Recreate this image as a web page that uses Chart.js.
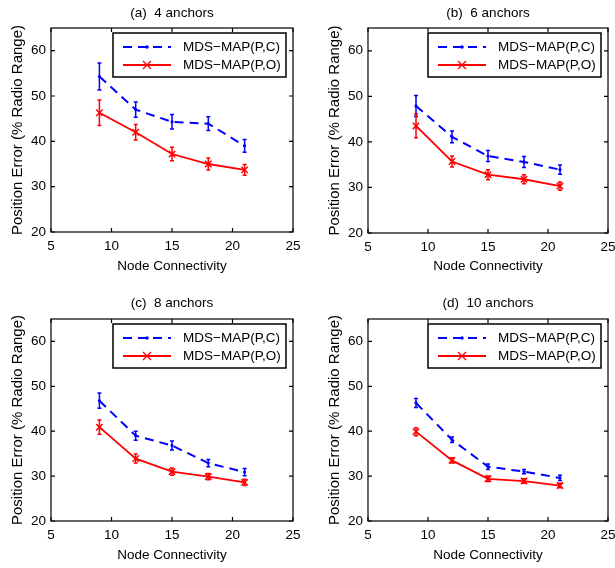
<!DOCTYPE html>
<html>
<head>
<meta charset="utf-8">
<script src="https://cdn.jsdelivr.net/npm/chart.js@4.4.1/dist/chart.umd.min.js"></script>
<style>
  html, body { margin: 0; padding: 0; background: #fff; overflow: hidden; }
  #wrap { position: relative; width: 615px; height: 568px; overflow: hidden; }
  canvas { position: absolute; }
</style>
</head>
<body>
<div id="wrap">
  <canvas id="chartA" width="310" height="284" style="left:0px;top:0px"></canvas>
  <canvas id="chartB" width="310" height="284" style="left:317px;top:0px"></canvas>
  <canvas id="chartC" width="310" height="284" style="left:0px;top:284px"></canvas>
  <canvas id="chartD" width="310" height="284" style="left:317px;top:284px"></canvas>
</div>
<script>
// node connectivity values on the x axis
const connectivity = [9, 12, 15, 18, 21];

const xTicks = [5, 10, 15, 20, 25];
const yTicks = [20, 30, 40, 50, 60];

const labelPC = 'MDS−MAP(P,C)';
const labelPO = 'MDS−MAP(P,O)';

// (a) 4 anchors
const pcA = [54.3, 47.0, 44.3, 43.9, 39.0];
const pcErrA = [3.0, 1.7, 1.6, 1.5, 1.4];
const poA = [46.3, 42.0, 37.2, 35.0, 33.7];
const poErrA = [2.8, 1.7, 1.5, 1.3, 1.2];

// (b) 6 anchors
const pcB = [47.9, 41.1, 36.9, 35.6, 33.9];
const pcErrB = [2.3, 1.3, 1.2, 1.2, 1.0];
const poB = [43.5, 35.7, 32.8, 31.8, 30.3];
const poErrB = [2.6, 1.2, 1.1, 1.0, 0.9];

// (c) 8 anchors
const pcC = [46.8, 39.0, 36.8, 32.9, 30.9];
const pcErrC = [1.7, 1.0, 1.0, 0.8, 0.8];
const poC = [40.9, 33.9, 31.0, 29.9, 28.6];
const poErrC = [1.6, 1.0, 0.8, 0.7, 0.7];

// (d) 10 anchors
const pcD = [46.3, 38.1, 32.1, 31.0, 29.6];
const pcErrD = [1.0, 0.6, 0.6, 0.5, 0.6];
const poD = [39.9, 33.5, 29.4, 28.9, 27.9];
const poErrD = [0.9, 0.6, 0.6, 0.5, 0.5];

Chart.defaults.font.family = '"Liberation Sans", Arial, Helvetica, sans-serif';
Chart.defaults.font.size = 13.5;
Chart.defaults.color = '#000';

// error bars with small caps
const errorBars = {
  id: 'errorBars',
  afterDatasetsDraw(chart) {
    const ctx = chart.ctx;
    const xs = chart.scales.x, ys = chart.scales.y;
    chart.data.datasets.forEach(ds => {
      ctx.save();
      ctx.strokeStyle = ds.borderColor;
      ctx.lineWidth = 1.5;
      ds.data.forEach((p, i) => {
        const e = ds.errors[i];
        const px = xs.getPixelForValue(p.x);
        const y1 = ys.getPixelForValue(p.y - e);
        const y2 = ys.getPixelForValue(p.y + e);
        ctx.beginPath();
        ctx.moveTo(px, y1); ctx.lineTo(px, y2);
        ctx.moveTo(px - 2, y1); ctx.lineTo(px + 2, y1);
        ctx.moveTo(px - 2, y2); ctx.lineTo(px + 2, y2);
        ctx.stroke();
      });
      ctx.restore();
    });
  }
};

// box around the plot with inward ticks on all sides
const frame = {
  id: 'frame',
  afterDraw(chart) {
    const ctx = chart.ctx;
    const a = chart.chartArea;
    const xs = chart.scales.x, ys = chart.scales.y;
    ctx.save();
    ctx.strokeStyle = '#000';
    ctx.lineWidth = 1.2;
    ctx.strokeRect(a.left, a.top, a.right - a.left, a.bottom - a.top);
    ctx.beginPath();
    xTicks.forEach(v => {
      const px = xs.getPixelForValue(v);
      ctx.moveTo(px, a.bottom); ctx.lineTo(px, a.bottom - 4);
      ctx.moveTo(px, a.top); ctx.lineTo(px, a.top + 4);
    });
    yTicks.forEach(v => {
      const py = ys.getPixelForValue(v);
      ctx.moveTo(a.left, py); ctx.lineTo(a.left + 4, py);
      ctx.moveTo(a.right, py); ctx.lineTo(a.right - 4, py);
    });
    ctx.stroke();
    ctx.restore();
  }
};

// legend box in the top right corner of the plot
const boxLegend = {
  id: 'boxLegend',
  afterDraw(chart) {
    const ctx = chart.ctx;
    const a = chart.chartArea;
    const w = 173, h = 44;
    const left = a.right - 7 - w, top = a.top + 5;
    ctx.save();
    ctx.fillStyle = '#fff';
    ctx.fillRect(left, top, w, h);
    ctx.strokeStyle = '#000';
    ctx.lineWidth = 1.5;
    ctx.strokeRect(left, top, w, h);
    ctx.font = '13.5px "Liberation Sans", Arial, sans-serif';
    ctx.textBaseline = 'middle';
    chart.data.datasets.forEach((ds, i) => {
      const y = top + 14 + i * 18;
      const x1 = left + 10, x2 = left + 58, xm = (x1 + x2) / 2;
      ctx.strokeStyle = ds.borderColor;
      ctx.lineWidth = ds.borderWidth;
      ctx.setLineDash(ds.borderDash || []);
      ctx.beginPath();
      ctx.moveTo(x1, y); ctx.lineTo(x2, y);
      ctx.stroke();
      ctx.setLineDash([]);
      if (ds.pointStyle === 'crossRot') {
        ctx.lineWidth = 1.3;
        ctx.beginPath();
        ctx.moveTo(xm - 4, y - 4); ctx.lineTo(xm + 4, y + 4);
        ctx.moveTo(xm - 4, y + 4); ctx.lineTo(xm + 4, y - 4);
        ctx.stroke();
      } else {
        ctx.fillStyle = ds.borderColor;
        ctx.beginPath();
        ctx.arc(xm, y, 1.8, 0, Math.PI * 2);
        ctx.fill();
      }
      ctx.fillStyle = '#000';
      ctx.fillText(ds.label, left + 70, y + 0.5);
    });
    ctx.restore();
  }
};

function makePanel(id, title, pc, pcErr, po, poErr, opt) {
  const toPts = arr => arr.map((v, i) => ({ x: connectivity[i], y: v }));
  return new Chart(document.getElementById(id), {
    type: 'line',
    data: {
      datasets: [{
        label: labelPC,
        data: toPts(pc),
        errors: pcErr,
        borderColor: '#0000ff',
        backgroundColor: '#0000ff',
        borderWidth: 2,
        borderDash: [9, 6],
        pointStyle: 'circle',
        pointRadius: 1.6,
        pointBorderWidth: 0,
        tension: 0
      }, {
        label: labelPO,
        data: toPts(po),
        errors: poErr,
        borderColor: '#ff0000',
        backgroundColor: '#ff0000',
        borderWidth: 1.8,
        pointStyle: 'crossRot',
        pointRadius: 4.5,
        pointBorderWidth: 1.5,
        tension: 0
      }]
    },
    options: {
      responsive: false,
      animation: false,
      layout: { padding: { left: 0, right: opt.padRight, top: 0, bottom: 0 } },
      plugins: {
        legend: { display: false },
        tooltip: { enabled: false },
        title: {
          display: true,
          fullSize: false,
          text: title,
          font: { size: 13.5, weight: 'normal' },
          color: '#000',
          padding: { top: opt.titleTop, bottom: opt.titleBottom }
        }
      },
      scales: {
        x: {
          type: 'linear',
          min: 5, max: 25,
          afterBuildTicks: s => { s.ticks = xTicks.map(v => ({ value: v })); },
          afterFit: s => { s.height = opt.xHeight; },
          grid: { display: false, drawTicks: false },
          border: { display: false },
          ticks: { padding: 6, maxRotation: 0 },
          title: { display: true, text: 'Node Connectivity', padding: { top: 0, bottom: opt.xTitlePad } }
        },
        y: {
          type: 'linear',
          min: 20, max: 65,
          afterBuildTicks: s => { s.ticks = yTicks.map(v => ({ value: v })); },
          afterFit: s => { s.width = 51; },
          grid: { display: false, drawTicks: false },
          border: { display: false },
          ticks: { padding: 5 },
          title: {
            display: true,
            text: 'Position Error (% Radio Range)',
            font: { size: 15 },
            padding: { top: 9, bottom: 0 }
          }
        }
      }
    },
    plugins: [errorBars, frame, boxLegend]
  });
}

const topRow = { titleTop: 5, titleBottom: 6.8, xHeight: 52, xTitlePad: 9.5 };
const bottomRow = { titleTop: 11.5, titleBottom: 7.3, xHeight: 47, xTitlePad: 4.5 };

makePanel('chartA', '(a)  4 anchors', pcA, pcErrA, poA, poErrA, Object.assign({ padRight: 17 }, topRow));
makePanel('chartB', '(b)  6 anchors', pcB, pcErrB, poB, poErrB, Object.assign({ padRight: 19 }, topRow, { xHeight: 51 }));
makePanel('chartC', '(c)  8 anchors', pcC, pcErrC, poC, poErrC, Object.assign({ padRight: 17 }, bottomRow));
makePanel('chartD', '(d)  10 anchors', pcD, pcErrD, poD, poErrD, Object.assign({ padRight: 19 }, bottomRow));
</script>
</body>
</html>
